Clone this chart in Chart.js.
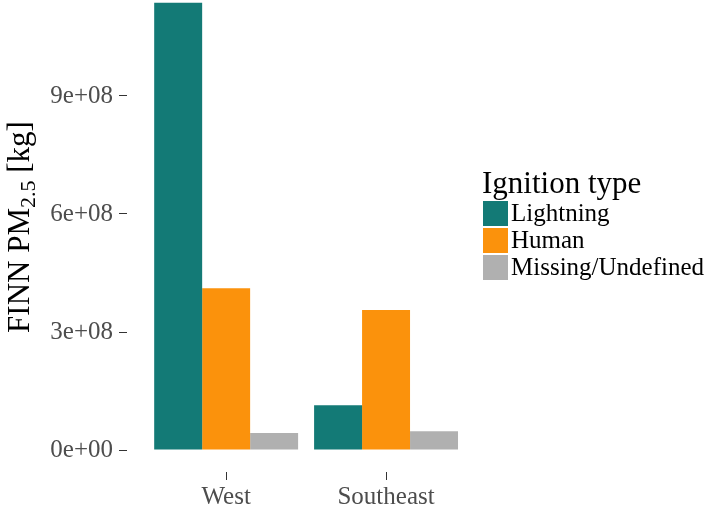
<!DOCTYPE html>
<html>
<head>
<meta charset="utf-8">
<script src="https://cdn.jsdelivr.net/npm/chart.js@4/dist/chart.umd.min.js"></script>
<style>
  html, body { margin: 0; padding: 0; background: #ffffff; }
  #wrap { width: 709px; height: 507px; position: relative; }
</style>
</head>
<body>
<div id="wrap"><canvas id="c" width="709" height="507"></canvas></div>
<script>
// ---- data ----
const categories = ['West', 'Southeast'];
const seriesNames = ['Lightning', 'Human', 'Missing/Undefined'];
const lightning = [1.137e9, 1.14e8];
const human = [4.11e8, 3.56e8];
const missing = [4.3e7, 4.8e7];
const yTickValues = [0, 3e8, 6e8, 9e8];
const yTickLabels = ['0e+00', '3e+08', '6e+08', '9e+08'];
const legendTitle = 'Ignition type';

const colors = ['#137a76', '#fb920c', '#b0b0b0'];
const seriesValues = [lightning, human, missing];

const FONT = "'Liberation Serif', 'DejaVu Serif', serif";

const datasets = seriesNames.map((name, s) => ({
  label: name,
  data: categories.map((c, i) => ({ x: i, y: seriesValues[s][i] })),
  backgroundColor: colors[s],
  borderWidth: 0,
  barPercentage: 1.0,
  categoryPercentage: 0.9
}));

const yTitlePlugin = {
  id: 'yTitle',
  afterDraw(chart) {
    const ctx = chart.ctx;
    ctx.save();
    ctx.translate(0, 227);
    ctx.rotate(-Math.PI / 2);
    ctx.fillStyle = '#000000';
    ctx.textBaseline = 'alphabetic';
    const big = "31px " + FONT;
    const small = "22px " + FONT;
    const parts = [
      { t: 'FINN PM', f: big, dy: 0 },
      { t: '2.5', f: small, dy: 6 },
      { t: ' [kg]', f: big, dy: 0 }
    ];
    let total = 0;
    parts.forEach(p => { ctx.font = p.f; p.w = ctx.measureText(p.t).width; total += p.w; });
    let x = -total / 2;
    const base = 29;
    parts.forEach(p => {
      ctx.font = p.f;
      ctx.textAlign = 'left';
      ctx.fillText(p.t, x, base + p.dy);
      x += p.w;
    });
    ctx.restore();
  }
};

const legendPlugin = {
  id: 'customLegend',
  afterDraw(chart) {
    const ctx = chart.ctx;
    ctx.save();
    ctx.fillStyle = '#000000';
    ctx.textAlign = 'left';
    ctx.textBaseline = 'alphabetic';
    ctx.font = "31px " + FONT;
    ctx.fillText(legendTitle, 482, 193);
    chart.data.datasets.forEach((ds, i) => {
      const top = 201 + i * 27;
      ctx.fillStyle = ds.backgroundColor;
      ctx.fillRect(483, top, 25, 25);
      ctx.fillStyle = '#000000';
      ctx.font = "25px " + FONT;
      ctx.fillText(ds.label, 511, top + 20);
    });
    ctx.restore();
  }
};

new Chart(document.getElementById('c'), {
  type: 'bar',
  data: { datasets },
  options: {
    responsive: false,
    animation: false,
    devicePixelRatio: 1,
    layout: { padding: { top: 0, left: 0, right: 227, bottom: 0 } },
    plugins: { legend: { display: false }, tooltip: { enabled: false } },
    scales: {
      x: {
        type: 'linear',
        min: -0.62,
        max: 1.6,
        offset: false,
        grid: { offset: false, drawOnChartArea: false, drawTicks: true, tickLength: 8, color: '#333333', tickWidth: 1 },
        border: { display: false },
        afterBuildTicks(scale) { scale.ticks = categories.map((c, i) => ({ value: i })); },
        afterFit(scale) { scale.height = 35; scale.paddingLeft = 0; scale.paddingRight = 0; },
        ticks: {
          autoSkip: false,
          maxRotation: 0,
          padding: 2,
          color: '#4d4d4d',
          font: { family: FONT, size: 25 },
          callback: (v, i) => categories[i]
        }
      },
      y: {
        min: -5.59e7,
        max: 1.144e9,
        grid: { drawOnChartArea: false, drawTicks: true, tickLength: 8, color: '#333333', tickWidth: 1 },
        border: { display: false },
        afterBuildTicks(scale) { scale.ticks = yTickValues.map(v => ({ value: v })); },
        afterFit(scale) { scale.width = 127; scale.paddingTop = 0; scale.paddingBottom = 0; },
        ticks: {
          padding: 6,
          color: '#4d4d4d',
          font: { family: FONT, size: 25 },
          callback: (v, i) => yTickLabels[i]
        }
      }
    }
  },
  plugins: [yTitlePlugin, legendPlugin]
});
</script>
</body>
</html>
